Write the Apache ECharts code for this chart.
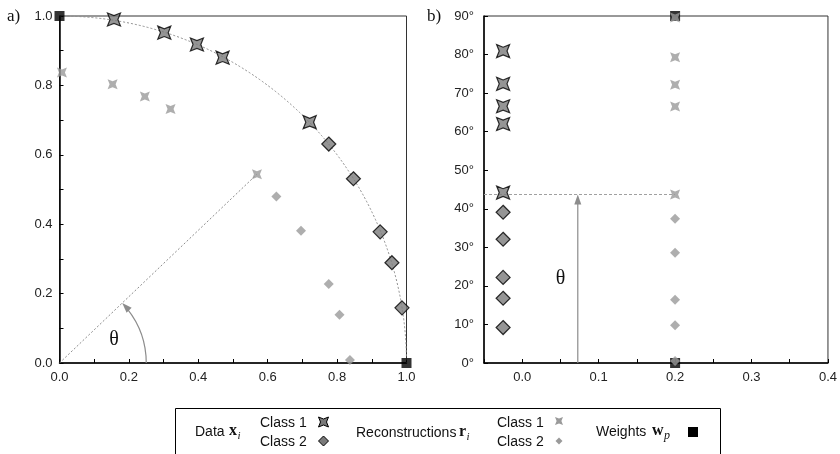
<!DOCTYPE html>
<html>
<head>
<meta charset="utf-8">
<script src="https://cdn.jsdelivr.net/npm/echarts@6/dist/echarts.min.js"></script>
<style>html,body{margin:0;padding:0;background:#fff}#c{width:840px;height:454px}</style>
</head>
<body>
<div id="c"></div>
<script>
// ---- panel a) : cartesian positions ----
const dataC1X  = [0.157, 0.302, 0.396, 0.470, 0.721];
const dataC1Y  = [0.990, 0.952, 0.918, 0.880, 0.694];
const dataC2X  = [0.776, 0.847, 0.924, 0.958, 0.987];
const dataC2Y  = [0.631, 0.531, 0.378, 0.289, 0.159];
const reconC1X = [0.007, 0.153, 0.246, 0.320, 0.569];
const reconC1Y = [0.837, 0.803, 0.768, 0.732, 0.544];
const reconC2X = [0.625, 0.696, 0.776, 0.807, 0.837];
const reconC2Y = [0.480, 0.381, 0.228, 0.139, 0.009];
const weightX  = [0, 1];
const weightY  = [1, 0];
// ---- panel b) : angles in degrees ----
const dataC1Ang  = [80.9, 72.4, 66.6, 62.0, 44.2];
const dataC2Ang  = [39.1, 32.1, 22.2, 16.8, 9.2];
const reconC1Ang = [89.6, 79.3, 72.2, 66.5, 43.7];
const reconC2Ang = [37.4, 28.6, 16.4, 9.8, 0.5];
const weightAng  = [90, 0];
const dataColumn = -0.025, reconColumn = 0.2, weightColumn = 0.2;
const arrowColumn = 0.0727;
// ---- tick labels ----
const xTicksA = ['0.0','0.2','0.4','0.6','0.8','1.0'];
const yTicksA = ['0.0','0.2','0.4','0.6','0.8','1.0'];
const xTicksB = ['0.0','0.1','0.2','0.3','0.4'];

const zip = (a, b) => a.map((v, i) => [v, b[i]]);
const col = (x, arr) => arr.map(v => [x, v]);

const STAR = 'path://M0,0 L10,4 L20,0 L16,10 L20,20 L10,16 L0,20 L4,10 Z';
const FONT = '"Liberation Sans", Arial, sans-serif';
const SERIF = '"Liberation Serif", "DejaVu Serif", serif';
const GRAY_LINE = '#8c8c8c';

function fmtA(list) {
  return v => { const s = v.toFixed(1); return list.indexOf(s) >= 0 && Math.abs(v*10 - Math.round(v*10)) < 1e-6 && Math.round(v*10) % 2 === 0 ? s : ''; };
}

function arrowHead(tip, dx, dy, L, W) {
  const n = Math.hypot(dx, dy); dx /= n; dy /= n;
  const bx = tip[0] - dx * L, by = tip[1] - dy * L;
  const px = -dy, py = dx;
  return [[tip[0], tip[1]], [bx + px * W, by + py * W], [bx - px * W, by - py * W]];
}

const thetaAngle = Math.atan2(reconC1Y[4], reconC1X[4]);

const option = {
  animation: false,
  grid: [
    {left: 59.5, top: 16, width: 347, height: 347, show: true, borderColor: '#333', borderWidth: 1, backgroundColor: 'transparent'},
    {left: 484, top: 16, width: 347, height: 347, show: true, borderColor: '#333', borderWidth: 1, backgroundColor: 'transparent'}
  ],
  xAxis: [
    {gridIndex: 0, type: 'value', min: 0, max: 1, interval: 0.1,
     axisLine: {show: true, onZero: false, lineStyle: {color: '#000', width: 1.5}},
     axisTick: {show: true, inside: true, length: 4, lineStyle: {color: '#000'}},
     axisLabel: {formatter: fmtA(xTicksA), fontFamily: FONT, fontSize: 13, color: '#222', margin: 8, showMinLabel: true, showMaxLabel: true},
     splitLine: {show: false}},
    {gridIndex: 1, type: 'value', min: -0.05, max: 0.4, interval: 0.05,
     axisLine: {show: true, onZero: false, lineStyle: {color: '#000', width: 1.5}},
     axisTick: {show: true, inside: true, length: 4, lineStyle: {color: '#000'}},
     axisLabel: {formatter: v => { const s = v.toFixed(1); return (Math.abs(v*10 - Math.round(v*10)) < 1e-6 && xTicksB.indexOf(s) >= 0) ? s : ''; },
                 fontFamily: FONT, fontSize: 13, color: '#222', margin: 8, showMinLabel: true, showMaxLabel: true},
     splitLine: {show: false}}
  ],
  yAxis: [
    {gridIndex: 0, type: 'value', min: 0, max: 1, interval: 0.1,
     axisLine: {show: true, onZero: false, lineStyle: {color: '#000', width: 1.5}},
     axisTick: {show: true, inside: true, length: 4, lineStyle: {color: '#000'}},
     axisLabel: {formatter: fmtA(yTicksA), fontFamily: FONT, fontSize: 13, color: '#222', margin: 7, showMinLabel: true, showMaxLabel: true},
     splitLine: {show: false}},
    {gridIndex: 1, type: 'value', min: 0, max: 90, interval: 10,
     axisLine: {show: true, onZero: false, lineStyle: {color: '#000', width: 1.5}},
     axisTick: {show: true, inside: true, length: 4, lineStyle: {color: '#000'}},
     axisLabel: {formatter: v => v + '°', fontFamily: FONT, fontSize: 13, color: '#222', margin: 10, showMinLabel: true, showMaxLabel: true},
     splitLine: {show: false}}
  ],
  series: [
    // ---------- panel a) guides ----------
    {type: 'custom', xAxisIndex: 0, yAxisIndex: 0, z: 1, silent: true, clip: false, data: [[0, 0]],
     renderItem: (params, api) => {
       const c = api.coord([0, 0]);
       const R = api.size([1, 0])[0];
       const r = api.size([0.25, 0])[0];
       const tip = [c[0] + r * Math.cos(thetaAngle), c[1] - r * Math.sin(thetaAngle)];
       const head = arrowHead(tip, -Math.sin(thetaAngle), -Math.cos(thetaAngle), 10, 3.5);
       const baseAng = thetaAngle - 8 / r;
       return {type: 'group', children: [
         {type: 'arc', shape: {cx: c[0], cy: c[1], r: R, startAngle: -Math.PI / 2, endAngle: 0},
          style: {stroke: GRAY_LINE, fill: null, lineWidth: 1, lineDash: [2, 2]}},
         {type: 'arc', shape: {cx: c[0], cy: c[1], r: r, startAngle: -baseAng, endAngle: 0},
          style: {stroke: GRAY_LINE, fill: null, lineWidth: 1.2}},
         {type: 'polygon', shape: {points: head}, style: {fill: GRAY_LINE, stroke: null}},
         {type: 'text', x: api.coord([0.157, 0.068])[0], y: api.coord([0.157, 0.068])[1],
          style: {text: 'θ', font: '20px ' + SERIF, fill: '#111', align: 'center', verticalAlign: 'middle'}}
       ]};
     }},
    {type: 'line', xAxisIndex: 0, yAxisIndex: 0, z: 1, silent: true, symbol: 'none',
     data: [[0, 0], [reconC1X[4], reconC1Y[4]]],
     lineStyle: {color: GRAY_LINE, width: 1, type: [2, 2]}},
    // ---------- panel a) points ----------
    {type: 'scatter', xAxisIndex: 0, yAxisIndex: 0, z: 3, clip: false, symbol: 'rect', symbolSize: 10,
     data: zip(weightX, weightY), itemStyle: {color: '#000'}},
    {type: 'scatter', xAxisIndex: 0, yAxisIndex: 0, z: 4, clip: false, symbol: STAR, symbolSize: 10,
     data: zip(reconC1X, reconC1Y), itemStyle: {color: '#9a9a9a'}},
    {type: 'scatter', xAxisIndex: 0, yAxisIndex: 0, z: 4, clip: false, symbol: 'diamond', symbolSize: 10,
     data: zip(reconC2X, reconC2Y), itemStyle: {color: '#9a9a9a'}},
    {type: 'scatter', xAxisIndex: 0, yAxisIndex: 0, z: 5, clip: false, symbol: STAR, symbolSize: 13,
     data: zip(dataC1X, dataC1Y), itemStyle: {color: '#7a7a7a', borderColor: '#000', borderWidth: 1.2}},
    {type: 'scatter', xAxisIndex: 0, yAxisIndex: 0, z: 5, clip: false, symbol: 'diamond', symbolSize: 14,
     data: zip(dataC2X, dataC2Y), itemStyle: {color: '#7a7a7a', borderColor: '#000', borderWidth: 1.2}},
    // ---------- panel b) guides ----------
    {type: 'line', xAxisIndex: 1, yAxisIndex: 1, z: 1, silent: true, symbol: 'none',
     data: [[-0.05, reconC1Ang[4]], [reconColumn, reconC1Ang[4]]],
     lineStyle: {color: '#a0a0a0', width: 1, type: [3, 2]}},
    {type: 'custom', xAxisIndex: 1, yAxisIndex: 1, z: 1, silent: true, clip: false, data: [[arrowColumn, reconC1Ang[4]]],
     renderItem: (params, api) => {
       const p0 = api.coord([arrowColumn, 0]);
       const p1 = api.coord([arrowColumn, reconC1Ang[4]]);
       const head = arrowHead(p1, 0, -1, 10, 3.5);
       const t = api.coord([0.05, 21.8]);
       return {type: 'group', children: [
         {type: 'line', shape: {x1: p0[0], y1: p0[1], x2: p1[0], y2: p1[1] + 8}, style: {stroke: GRAY_LINE, lineWidth: 1.2}},
         {type: 'polygon', shape: {points: head}, style: {fill: GRAY_LINE, stroke: null}},
         {type: 'text', x: t[0], y: t[1], style: {text: 'θ', font: '20px ' + SERIF, fill: '#111', align: 'center', verticalAlign: 'middle'}}
       ]};
     }},
    // ---------- panel b) points ----------
    {type: 'scatter', xAxisIndex: 1, yAxisIndex: 1, z: 3, clip: false, symbol: 'rect', symbolSize: 10,
     data: col(weightColumn, weightAng), itemStyle: {color: '#000'}},
    {type: 'scatter', xAxisIndex: 1, yAxisIndex: 1, z: 4, clip: false, symbol: STAR, symbolSize: 10,
     data: col(reconColumn, reconC1Ang), itemStyle: {color: '#9a9a9a'}},
    {type: 'scatter', xAxisIndex: 1, yAxisIndex: 1, z: 4, clip: false, symbol: 'diamond', symbolSize: 10,
     data: col(reconColumn, reconC2Ang), itemStyle: {color: '#9a9a9a'}},
    {type: 'scatter', xAxisIndex: 1, yAxisIndex: 1, z: 5, clip: false, symbol: STAR, symbolSize: 13,
     data: col(dataColumn, dataC1Ang), itemStyle: {color: '#7a7a7a', borderColor: '#000', borderWidth: 1.2}},
    {type: 'scatter', xAxisIndex: 1, yAxisIndex: 1, z: 5, clip: false, symbol: 'diamond', symbolSize: 14,
     data: col(dataColumn, dataC2Ang), itemStyle: {color: '#7a7a7a', borderColor: '#000', borderWidth: 1.2}}
  ],
  graphic: []
};

// ---- legend & panel labels (graphic) ----
function starPoly(cx, cy, s, k) {
  const h = s / 2, m = h * k;
  return [[cx - h, cy - h], [cx, cy - m], [cx + h, cy - h], [cx + m, cy], [cx + h, cy + h], [cx, cy + m], [cx - h, cy + h], [cx - m, cy]];
}
function diamondPoly(cx, cy, s) {
  const h = s / 2;
  return [[cx, cy - h], [cx + h, cy], [cx, cy + h], [cx - h, cy]];
}
const T = (text, x, y, font, extra) => Object.assign({type: 'text', x: x, y: y, z: 100,
  style: {text: text, font: font, fill: '#111', align: 'left', verticalAlign: 'middle'}}, extra || {});
const LF = '14px ' + FONT;

option.graphic = [
  T('a)', 7, 17, '17px ' + SERIF),
  T('b)', 427, 17, '17px ' + SERIF),
  {type: 'rect', z: 90, shape: {x: 175.5, y: 408.5, width: 545, height: 60}, style: {fill: '#fff', stroke: '#000', lineWidth: 1}},
  T('Data', 195, 432, LF),
  T('x', 229, 431, 'bold 16px ' + SERIF),
  T('i', 237.5, 436, 'italic 11px ' + SERIF),
  T('Class 1', 260, 423, LF),
  T('Class 2', 260, 442, LF),
  {type: 'polygon', z: 100, shape: {points: starPoly(323.5, 422, 10, 0.6)}, style: {fill: '#7a7a7a', stroke: '#000', lineWidth: 1}},
  {type: 'polygon', z: 100, shape: {points: diamondPoly(323.5, 441, 10)}, style: {fill: '#7a7a7a', stroke: '#000', lineWidth: 1}},
  T('Reconstructions', 356, 433, LF),
  T('r', 459, 432, 'bold 16px ' + SERIF),
  T('i', 466.5, 437, 'italic 11px ' + SERIF),
  T('Class 1', 497, 423, LF),
  T('Class 2', 497, 442, LF),
  {type: 'polygon', z: 100, shape: {points: starPoly(559, 421, 8, 0.6)}, style: {fill: '#9a9a9a'}},
  {type: 'polygon', z: 100, shape: {points: diamondPoly(559, 441, 7)}, style: {fill: '#9a9a9a'}},
  T('Weights', 596, 432, LF),
  T('w', 652, 431, 'bold 16px ' + SERIF),
  T('p', 664, 436, 'italic 12px ' + SERIF),
  {type: 'rect', z: 100, shape: {x: 688, y: 427, width: 10, height: 10}, style: {fill: '#000'}}
];

const chart = echarts.init(document.getElementById('c'), null, {renderer: 'canvas'});
chart.setOption(option);
</script>
</body>
</html>
